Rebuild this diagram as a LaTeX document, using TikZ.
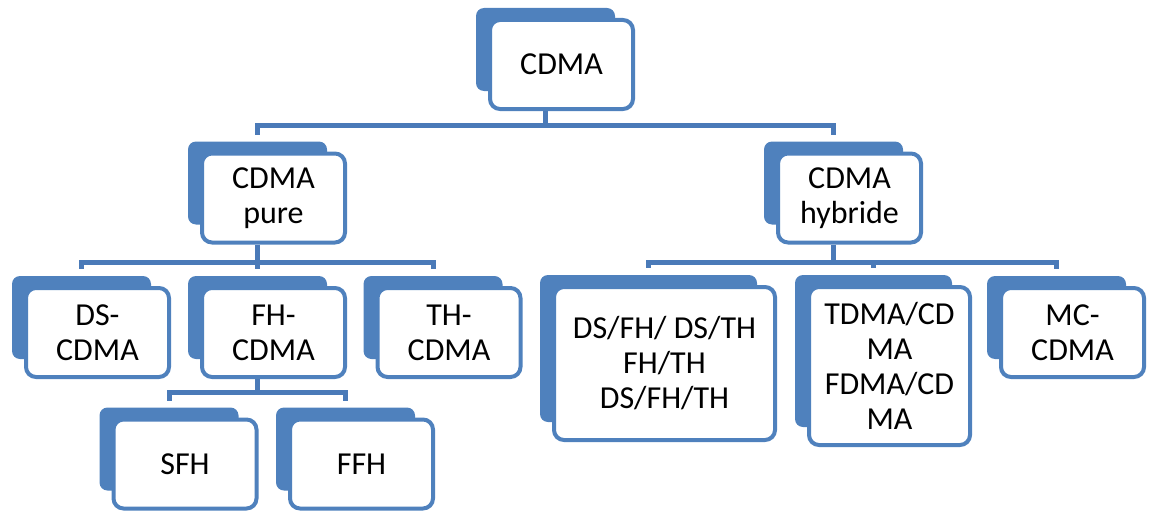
\documentclass[tikz,border=0pt]{standalone}
\usepackage{fontspec}
\setmainfont{Carlito}
\usetikzlibrary{backgrounds}
\definecolor{blu}{HTML}{4F81BD}
\definecolor{blulinea}{HTML}{4A7AB8}
\tikzset{
  blocco/.style={draw=blu, line width=4pt, fill=white, rounded corners=10pt,
    minimum width=143pt, minimum height=89pt, align=center, inner sep=2pt},
  fondo/.style={fill=blu, rounded corners=8pt},
  linea/.style={draw=blulinea, line width=5pt},
}
\begin{document}
\begin{tikzpicture}[x=1pt,y=-1pt]
  \useasboundingbox (0,0) rectangle (1150,511);

  \begin{scope}[font=\fontsize{32}{35}\selectfont]
    \node[blocco] (cdma) at (561.5,64.5) {CDMA};
    \node[blocco] (puro) at (273.5,198) {CDMA\\pure};
    \node[blocco] (ibrido) at (849.5,198) {CDMA\\hybride};
    \node[blocco] (ds) at (97.5,332.5) {DS-\\CDMA};
    \node[blocco] (fh) at (273.5,332.5) {FH-\\CDMA};
    \node[blocco] (th) at (449,332.5) {TH-\\CDMA};
    \node[blocco] (sfh) at (185,464) {SFH};
    \node[blocco] (ffh) at (361.5,464) {FFH};
    \node[blocco, minimum width=221pt, minimum height=153pt] (dsfh) at (664.5,363.5)
      {DS/FH/ DS/TH\\FH/TH\\DS/FH/TH};
    \node[blocco, minimum width=161pt, minimum height=158pt] (tdma) at (889.5,366)
      {TDMA/CD\\MA\\FDMA/CD\\MA};
    \node[blocco] (mc) at (1072.5,332.5) {MC-\\CDMA};
  \end{scope}

  \begin{scope}[on background layer]
    \foreach \n in {cdma,puro,ibrido,ds,fh,th,sfh,ffh,dsfh,tdma,mc}
      \fill[fondo] ([shift={(-12,-10)}]\n.north west) rectangle ([shift={(-20,-20)}]\n.south east);
  \end{scope}

  \foreach \n in {cdma,puro,ibrido,ds,fh,th,sfh,ffh,dsfh,tdma,mc}{
    \coordinate (\n-su) at ([shift={(-16,-17)}]\n.north);
    \coordinate (\n-giu) at ([shift={(-16,0)}]\n.south);
  }

  \draw[linea] (cdma-giu) -- ++(0,14) coordinate (bus1) -| (puro-su);
  \draw[linea] (bus1) -| (ibrido-su);

  \draw[linea] (puro-giu) -- ++(0,18) coordinate (bus2) -| (ds-su);
  \draw[linea] (bus2) -| (th-su);
  \draw[linea] (bus2) -- (fh-su);

  \draw[linea] (ibrido-giu) -- ++(0,18) coordinate (bus3) -| (dsfh-su);
  \draw[linea] (bus3) -| (mc-su);
  \draw[linea] (bus3 -| tdma-su) -- (tdma-su);

  \draw[linea] (fh-giu) -- ++(0,13) coordinate (bus4) -| (sfh-su);
  \draw[linea] (bus4) -| (ffh-su);
\end{tikzpicture}
\end{document}
